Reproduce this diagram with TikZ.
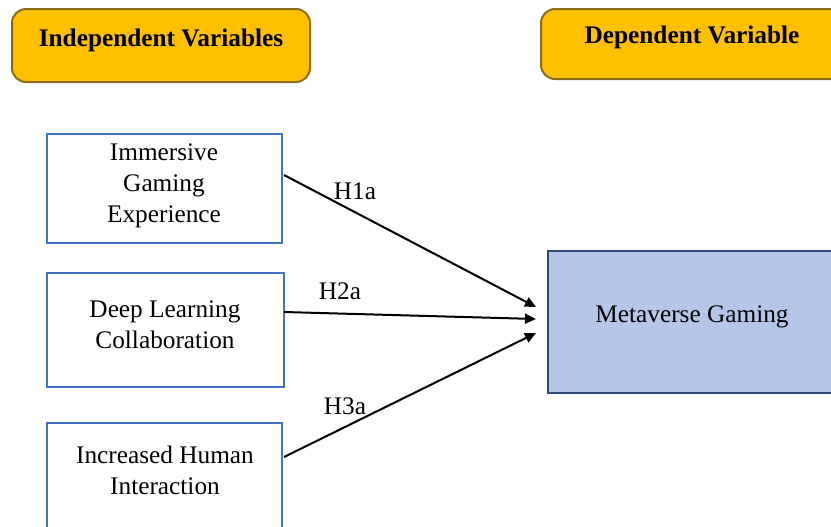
\documentclass[tikz,border=0pt]{standalone}
\usepackage{fontspec}
\setmainfont{Liberation Serif}
\usetikzlibrary{arrows.meta,calc}
\definecolor{hdrfill}{HTML}{FFC000}
\definecolor{hdredge}{HTML}{8A6C14}
\definecolor{boxedge}{HTML}{4472C4}
\definecolor{metafill}{HTML}{B4C7E7}
\definecolor{metaedge}{HTML}{2F4B7C}
\begin{document}
\begin{tikzpicture}[x=0.5pt,y=-0.5pt,
  every node/.style={font=\fontsize{12.65}{15.5}\selectfont},
  hdrbox/.style={draw=hdredge,line width=1pt,fill=hdrfill,rounded corners=7pt,inner sep=0pt},
  varbox/.style={draw=boxedge,line width=1pt,fill=white,inner sep=0pt},
  metabox/.style={draw=metaedge,line width=1pt,fill=metafill,inner sep=0pt},
  txt/.style={align=center,inner sep=0pt},
  link/.style={line width=1pt,-{Triangle[length=5.5pt,width=5pt]}},
  hyp/.style={inner sep=0pt}]
\useasboundingbox (0,0) rectangle (831,526);
\clip (0,0) rectangle (831,526);
% headers
\node[hdrbox,minimum width=149pt,minimum height=36.5pt] (indep) at (161,45.5) {};
\node[txt,font=\fontsize{12.65}{15.5}\selectfont\bfseries] (indept) at (161,40) {Independent Variables};
\node[hdrbox,minimum width=154.5pt,minimum height=35pt] (dep) at (695.5,44) {};
\node[txt,font=\fontsize{12.65}{15.5}\selectfont\bfseries] (dept) at (692,37) {Dependent Variable};
% variable boxes
\node[varbox,minimum width=117.5pt,minimum height=54.5pt] (imm) at (164.5,188.5) {};
\node[txt] (immt) at (164,186) {Immersive\\Gaming\\Experience};
\node[varbox,minimum width=118.5pt,minimum height=57pt] (deep) at (165.5,330) {};
\node[txt] (deept) at (165,325) {Deep Learning\\Collaboration};
\node[varbox,minimum width=117.5pt,minimum height=61pt] (incr) at (164.5,484) {};
\node[txt] (incrt) at (165,470) {Increased Human\\Interaction};
\node[metabox,minimum width=151pt,minimum height=71pt] (meta) at (699,322) {};
\node[txt] (metat) at (692,317) {Metaverse Gaming};
% arrows
\draw[link] ($(imm.east)+(1,-13.5)$) -- ($(meta.west)+(-11,-15)$);
\draw[link] ($(deep.east)+(-1,-18)$) -- ($(meta.west)+(-11,-3)$);
\draw[link] ($(incr.east)+(1,-27)$) -- ($(meta.west)+(-11,11)$);
% hypothesis labels
\node[hyp] (h1) at (355,191) {H1a};
\node[hyp] (h2) at (340,291) {H2a};
\node[hyp] (h3) at (345,406) {H3a};
\end{tikzpicture}
\end{document}
